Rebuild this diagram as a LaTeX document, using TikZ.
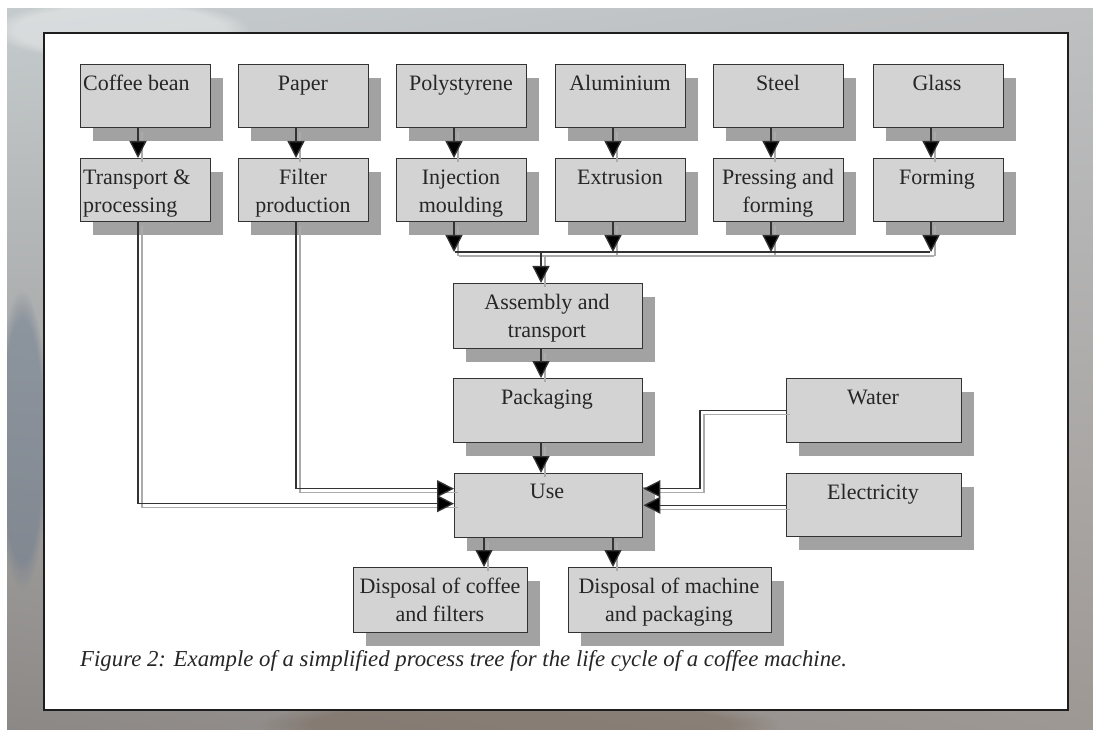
\documentclass[tikz,border=0pt]{standalone}
\usepackage{fontspec}
\setmainfont{Liberation Serif}
\usetikzlibrary{arrows.meta,shadows,fadings,shadings}

\definecolor{boxfill}{HTML}{D3D3D3}
\definecolor{boxline}{HTML}{333333}
\definecolor{boxshade}{HTML}{A2A2A2}
\definecolor{linedark}{HTML}{333333}
\definecolor{lineshade}{HTML}{ABABAB}
\definecolor{txt}{HTML}{262626}
\definecolor{frameline}{HTML}{1E1E1E}
\definecolor{bgUL}{HTML}{C5CBCD}
\definecolor{bgUR}{HTML}{BEC0C2}
\definecolor{bgLL}{HTML}{8C8886}
\definecolor{bgLR}{HTML}{9E9894}
\definecolor{bgblue}{HTML}{66768A}
\definecolor{bgbrown}{HTML}{6E5A48}

\tikzset{
  procbox/.style={draw=boxline, line width=1.4pt, fill=boxfill, inner sep=0pt,
    general shadow={fill=boxshade, shadow xshift=12pt, shadow yshift=-13pt}},
  boxtext/.style={inner sep=0pt, text=txt, align=center,
    font=\fontsize{22}{28}\selectfont},
  conn/.style={draw=linedark, line width=1.3pt,
    -{Triangle[length=17pt,width=17pt,fill=black]},
    preaction={draw=lineshade, line width=1.2pt, arrows=-,
      transform canvas={shift={(4pt,-4pt)}}}},
  busline/.style={draw=linedark, line width=1.3pt,
    preaction={draw=lineshade, line width=1.2pt,
      transform canvas={shift={(4pt,-4pt)}}}},
}

% process box: name, left, top, width, height
\newcommand\procbox[5]{%
  \node[procbox, anchor=north west, minimum width=#4pt, minimum height=#5pt]
    (#1) at (#2,#3) {};}

\begin{document}
\begin{tikzpicture}[x=1pt,y=-1pt]
\useasboundingbox (0,0) rectangle (1093,730);

% backdrop
\fill[white] (0,0) rectangle (1093,730);
\shade[upper left=bgUL, upper right=bgUR, lower left=bgLL, lower right=bgLR]
  (7,9) rectangle (1093,730);
\begin{scope}
\clip (7,9) rectangle (1093,730);
\fill[bgblue, opacity=.45, path fading=circle with fuzzy edge 20 percent]
  (22,440) ellipse (26 and 150);
\fill[bgbrown, opacity=.35, path fading=circle with fuzzy edge 20 percent]
  (520,725) ellipse (260 and 30);
\fill[white, opacity=.35, path fading=circle with fuzzy edge 20 percent]
  (120,30) ellipse (130 and 30);
\end{scope}

% page panel
\draw[frameline, line width=2.2pt, fill=white] (44,33) rectangle (1068,710);

% raw materials
\procbox{coffee}{80}{64}{130}{63}
\procbox{paper}{238}{64}{130}{63}
\procbox{poly}{396}{64}{130}{63}
\procbox{alu}{555}{64}{130}{63}
\procbox{steel}{713}{64}{130}{63}
\procbox{glass}{873}{64}{130}{63}

% first processing
\procbox{transp}{80}{158}{130}{63}
\procbox{filter}{238}{158}{130}{63}
\procbox{inject}{396}{158}{130}{63}
\procbox{extr}{555}{158}{130}{63}
\procbox{press}{713}{158}{130}{63}
\procbox{form}{873}{158}{130}{63}

% machine chain
\procbox{asm}{453}{283}{189}{65}
\procbox{pack}{453}{378}{189}{64}
\procbox{use}{454}{473}{188}{64}
\procbox{water}{786}{378}{175}{64}
\procbox{elec}{786}{473}{175}{63}
\procbox{dcoffee}{353}{567}{174}{65}
\procbox{dmach}{568}{567}{203}{65}

% labels
\node[boxtext, anchor=north west, align=left] (coffee-t) at (83,70.4) {\strut Coffee bean};
\node[boxtext, anchor=north west, align=left] (transp-t) at (83,164.4) {\strut Transport \&\\processing};
\node[boxtext, anchor=north] (paper-t) at (303,70.4) {\strut Paper};
\node[boxtext, anchor=north] (poly-t) at (461,70.4) {\strut Polystyrene};
\node[boxtext, anchor=north] (alu-t) at (620,70.4) {\strut Aluminium};
\node[boxtext, anchor=north] (steel-t) at (778,70.4) {\strut Steel};
\node[boxtext, anchor=north] (glass-t) at (937,70.4) {\strut Glass};
\node[boxtext, anchor=north] (filter-t) at (303,164.4) {\strut Filter\\production};
\node[boxtext, anchor=north] (inject-t) at (461,164.4) {\strut Injection\\moulding};
\node[boxtext, anchor=north] (extr-t) at (620,164.4) {\strut Extrusion};
\node[boxtext, anchor=north] (press-t) at (778,164.4) {\strut Pressing and\\forming};
\node[boxtext, anchor=north] (form-t) at (937,164.4) {\strut Forming};
\node[boxtext, anchor=north] (asm-t) at (547,289.4) {\strut Assembly and\\transport};
\node[boxtext, anchor=north] (pack-t) at (547,384.4) {\strut Packaging};
\node[boxtext, anchor=north] (use-t) at (547,478.4) {\strut Use};
\node[boxtext, anchor=north] (water-t) at (873,384.4) {\strut Water};
\node[boxtext, anchor=north] (elec-t) at (873,479.4) {\strut Electricity};
\node[boxtext, anchor=north] (dcoffee-t) at (440,573.4) {\strut Disposal of coffee\\and filters};
\node[boxtext, anchor=north] (dmach-t) at (669,573.4) {\strut Disposal of machine\\and packaging};

\node[anchor=base west, inner sep=0pt, text=txt, font=\fontsize{22.8}{27}\selectfont\itshape]
  (caption) at (80,666) {Figure 2: Example of a simplified process tree for the life cycle of a coffee machine.};

% material to processing
\foreach \a/\b in {coffee/transp, paper/filter, poly/inject, alu/extr, steel/press, glass/form}
  \draw[conn] ([xshift=58pt]\a.south west) -- ([xshift=58pt]\b.north west);

% collecting bus
\coordinate (busL) at (455,252);
\coordinate (busR) at (930,252);
\coordinate (busM) at (541,252);
\foreach \a in {inject, extr, press, form}
  \draw[conn] ([xshift=58pt]\a.south west) -- ([xshift=58pt]\a.south west |- busL);
\draw[busline] (busL) -- (busR);
\draw[conn] (busM) -- (busM |- asm.north);
\draw[conn] (asm.south -| busM) -- (pack.north -| busM);
\draw[conn] (pack.south -| busM) -- (use.north -| busM);

% inputs to use
\draw[conn] ([xshift=58pt]transp.south west) |- ([yshift=2pt]use.west);
\draw[conn] ([xshift=58pt]filter.south west) |- ([yshift=17pt]use.west);
\draw[conn] (water.west) -- ++(-86,0) |- ([yshift=17pt]use.east);
\draw[conn] (elec.west) -- (elec.west -| use.east);

% end of life
\draw[conn] ([xshift=30pt]use.south west) -- ([xshift=30pt]use.south west |- dcoffee.north);
\draw[conn] ([xshift=159pt]use.south west) -- ([xshift=159pt]use.south west |- dmach.north);
\end{tikzpicture}
\end{document}
